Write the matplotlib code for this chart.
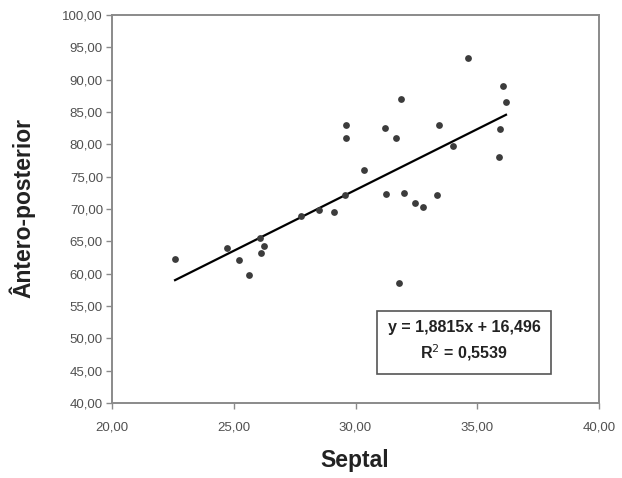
import numpy as np
import matplotlib
matplotlib.use("Agg")
import matplotlib.pyplot as plt
from matplotlib.ticker import FuncFormatter

plt.rcParams["font.family"] = ["Liberation Sans", "DejaVu Sans"]

# valores
septal = [22.59, 24.71, 25.22, 25.63, 26.08, 26.10, 26.24, 27.75, 28.49, 29.12,
          29.57, 29.61, 29.61, 30.35, 31.21, 31.25, 31.66, 31.86, 31.99, 32.44,
          32.76, 33.36, 33.44, 34.02, 34.63, 35.89, 35.93, 36.07, 36.18, 31.77]
antero = [62.2, 64.0, 62.1, 59.8, 65.5, 63.2, 64.3, 68.95, 69.8, 69.6,
          72.15, 83.0, 81.0, 76.0, 82.5, 72.25, 81.0, 87.0, 72.5, 71.0,
          70.3, 72.15, 83.0, 79.8, 93.4, 78.0, 82.3, 89.0, 86.6, 58.5]
slope, intercept = 1.8815, 16.496
r2 = 0.5539

x_ticks = [20, 25, 30, 35, 40]
y_ticks = [40, 45, 50, 55, 60, 65, 70, 75, 80, 85, 90, 95, 100]

comma = FuncFormatter(lambda v, _: f"{v:.2f}".replace(".", ","))

fig = plt.figure(figsize=(6.22, 4.78), dpi=100)
ax = fig.add_axes([112 / 622, 75 / 478, 487 / 622, 388 / 478])

ax.scatter(septal, antero, s=24, color="#3c3c3c", zorder=3, linewidths=0)
xs = np.array([min(septal), max(septal)])
ax.plot(xs, slope * xs + intercept, color="black", lw=1.6, zorder=2)

ax.set_xlim(20, 40)
ax.set_ylim(40, 100)
ax.set_xticks(x_ticks)
ax.set_yticks(y_ticks)
ax.xaxis.set_major_formatter(comma)
ax.yaxis.set_major_formatter(comma)

for sp in ax.spines.values():
    sp.set_color("#8a8a8a")
    sp.set_linewidth(1.4)
ax.tick_params(axis="both", direction="out", length=4.5, width=1.0,
               color="#8a8a8a", labelcolor="#505050", labelsize=9.5)
ax.tick_params(axis="x", pad=9)
ax.tick_params(axis="y", pad=2)

fig.text(355 / 622, 1 - 461 / 478, "Septal", fontsize=16.5, fontweight="bold",
         color="#222222", ha="center", va="center")
fig.text(22 / 622, 1 - 208.5 / 478, "Ântero-posterior", fontsize=16.5,
         fontweight="bold", color="#222222", ha="center", va="center", rotation=90)

eq = f"y = {slope:.4f}x + {intercept:.3f}".replace(".", ",")
r2txt = f"R$^2$ = {r2:.4f}".replace(".", ",")
ax.text(0.723, 0.1585, eq + "\n" + r2txt, transform=ax.transAxes,
        ha="center", va="center", fontsize=11.5, fontweight="bold",
        color="#222222", linespacing=1.5,
        bbox=dict(boxstyle="square,pad=0.65", fc="white", ec="#555555", lw=1.2))

fig.savefig("out.png", dpi=100)
